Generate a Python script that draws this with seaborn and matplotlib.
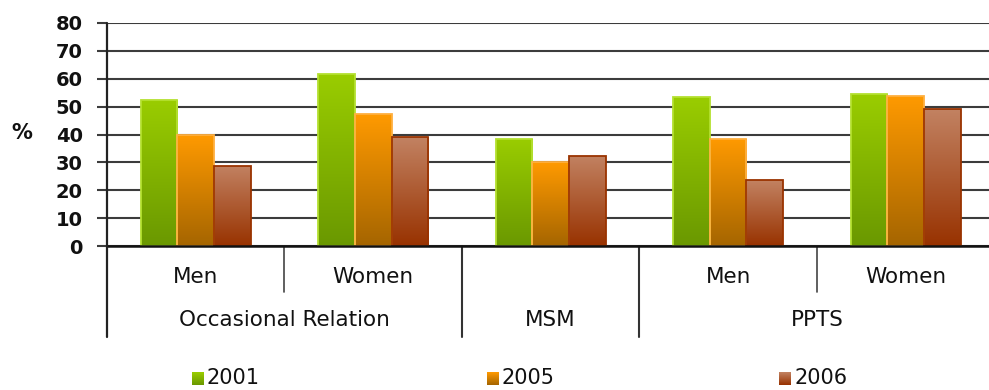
import numpy as np
import pandas as pd
import matplotlib
matplotlib.use("Agg")
import matplotlib.pyplot as plt
from matplotlib.colors import LinearSegmentedColormap
import seaborn as sns

# ---- data -------------------------------------------------------------
groups = ["Occasional Relation", "MSM", "PPTS"]
group_subs = [["Men", "Women"], [""], ["Men", "Women"]]
years = ["2001", "2005", "2006"]
v2001 = [52.4, 61.8, 38.4, 53.4, 54.5]
v2005 = [39.8, 47.3, 30.1, 38.4, 53.9]
v2006 = [28.8, 39.0, 32.3, 23.6, 49.1]
y_ticks = [0, 10, 20, 30, 40, 50, 60, 70, 80]

# ---- styling ----------------------------------------------------------
grad_top = {"2001": "#9ACD00", "2005": "#FF9A00", "2006": "#C28262"}
grad_bot = {"2001": "#6A9800", "2005": "#A56500", "2006": "#983200"}
edge_col = {"2001": "#B4E030", "2005": "#FFB040", "2006": "#9A3300"}
grid_col = "#3c3c3c"

segments = []
for g, subs in zip(groups, group_subs):
    for s in subs:
        segments.append(f"{g}|{s}")
values = {"2001": v2001, "2005": v2005, "2006": v2006}
df = pd.DataFrame(
    [(seg, yr, values[yr][i]) for yr in years for i, seg in enumerate(segments)],
    columns=["segment", "year", "value"],
)

sns.set_style("white")
plt.rcParams["font.family"] = ["DejaVu Sans"]

fig = plt.figure(figsize=(9.89, 3.90), dpi=100)
ax = fig.add_axes([107 / 989, (390 - 246) / 390, 1 - 107 / 989, 223 / 390])

sns.barplot(
    data=df, x="segment", y="value", hue="year", order=segments,
    hue_order=years, palette=[grad_top[y] for y in years], width=0.62,
    saturation=1, legend=False, ax=ax, zorder=3,
)

# vertical gradient fill for each bar
for cont, yr in zip(ax.containers, years):
    cmap = LinearSegmentedColormap.from_list(yr, [grad_bot[yr], grad_top[yr]])
    for p in cont.patches:
        x0, y0 = p.get_x(), p.get_y()
        w, h = p.get_width(), p.get_height()
        grad = np.linspace(0, 1, 256).reshape(-1, 1)
        im = ax.imshow(grad, cmap=cmap, origin="lower", aspect="auto",
                       extent=[x0, x0 + w, y0, y0 + h], zorder=2.9)
        im.set_clip_path(p)
        p.set_facecolor("none")
        p.set_edgecolor(edge_col[yr])
        p.set_linewidth(1.3)
        p.set_zorder(3)

ax.set_xlim(-0.5, len(segments) - 0.53)
ax.set_ylim(0, 80)
ax.set_yticks(y_ticks)
ax.set_yticklabels([str(t) for t in y_ticks], fontsize=14, fontweight="bold",
                   color="#111111")
ax.set_xticks([])
ax.set_xlabel("")
ax.set_ylabel("")
ax.yaxis.grid(True, color=grid_col, linewidth=1.5, zorder=0)
ax.set_axisbelow(True)
ax.tick_params(axis="y", direction="out", length=7.5, width=1.5,
               color=grid_col, pad=10, left=True)
for side in ["top", "right", "left"]:
    ax.spines[side].set_visible(False)
ax.spines["bottom"].set_color("#111111")
ax.spines["bottom"].set_linewidth(1.8)
ax.spines["bottom"].set_zorder(4)

trans = ax.get_xaxis_transform()
# left axis line running down through the category table
ax.plot([-0.5, -0.5], [1.0, -0.408], transform=trans, color="#222222",
        linewidth=1.6, clip_on=False, zorder=5)

# category table below the axis
idx = 0
for gi, (g, subs) in enumerate(zip(groups, group_subs)):
    start = idx
    for si, s in enumerate(subs):
        if s:
            ax.text(idx, -0.139, s, transform=trans, ha="center", va="center",
                    fontsize=15.5, color="#111111")
        if si > 0:
            ax.plot([idx - 0.5, idx - 0.5], [0, -0.206], transform=trans,
                    color="#444444", linewidth=1.2, clip_on=False)
        idx += 1
    end = idx - 1
    ax.text((start + end) / 2, -0.332, g, transform=trans, ha="center",
            va="center", fontsize=15.5, color="#111111")
    if gi > 0:
        ax.plot([start - 0.5, start - 0.5], [0, -0.408], transform=trans,
                color="#333333", linewidth=1.5, clip_on=False)

fig.text(22 / 989, 1 - 133 / 390, "%", fontsize=15, fontweight="bold",
         ha="center", va="center", color="#111111")

# legend row
leg_x = [192, 487, 779]
for yr, lx in zip(years, leg_x):
    cmap = LinearSegmentedColormap.from_list(yr + "_leg", [grad_bot[yr], grad_top[yr]])
    lax = fig.add_axes([lx / 989, 1 - 385 / 390, 12 / 989, 13 / 390])
    lax.imshow(np.linspace(0, 1, 64).reshape(-1, 1), cmap=cmap, origin="lower",
               aspect="auto")
    lax.set_axis_off()
    fig.text((lx + 15) / 989, 1 - 378 / 390, yr, fontsize=15, ha="left",
             va="center", color="#111111")

fig.savefig("out.png", dpi=100)
